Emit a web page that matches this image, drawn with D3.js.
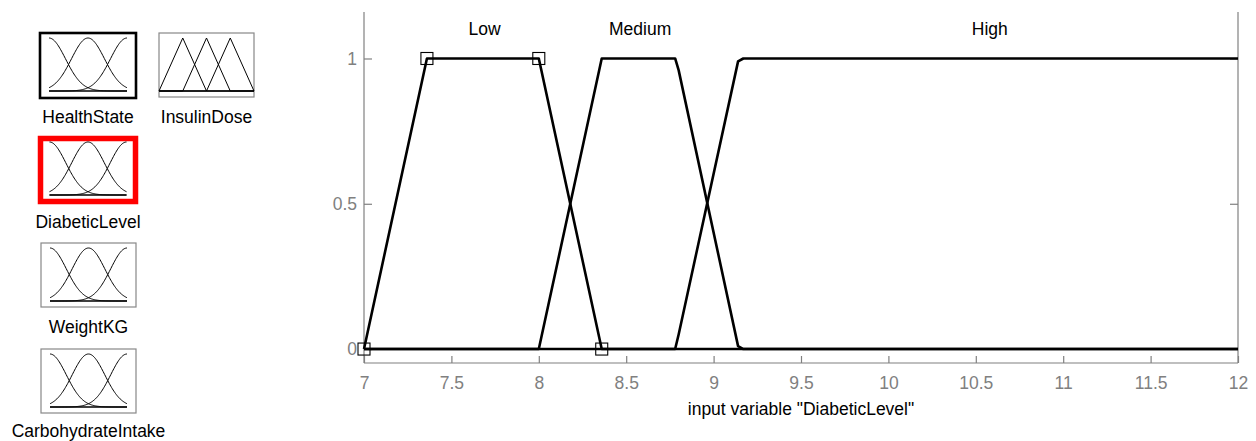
<!DOCTYPE html>
<html>
<head>
<meta charset="utf-8">
<script src="https://cdn.jsdelivr.net/npm/d3@7"></script>
<style>
  body { margin: 0; background: #fff; }
  svg text { font-family: "Liberation Sans", Arial, sans-serif; }
</style>
</head>
<body>
<div id="chart"></div>
<script>

// membership functions of input "DiabeticLevel"
var mfNames = ["Low", "Medium", "High"];
var lowX = [7, 7.36, 8, 8.36, 12];
var lowY = [0, 1, 1, 0, 0];
var mediumX = [7, 8, 8.36, 8.78, 8.8, 9.14, 9.17, 12];
var mediumY = [0, 0, 1, 1, 0.96, 0.01, 0, 0];
var highX = [7, 8.78, 8.8, 9.14, 9.17, 12];
var highY = [0, 0, 0.05, 0.99, 1, 1];
var labelX = [7.69, 8.58, 10.58];
var labelY = 1.1;

var xTicks = [7, 7.5, 8, 8.5, 9, 9.5, 10, 10.5, 11, 11.5, 12];
var yTicks = [0, 0.5, 1];
var xTitle = 'input variable "DiabeticLevel"';

// variables in the left panel
var varNames = ["HealthState", "InsulinDose", "DiabeticLevel", "WeightKG", "CarbohydrateIntake"];
var varTypes = ["gauss", "tri", "gauss", "gauss", "gauss"];
var gaussCenters = [0, 0.5, 1];
var gaussSigma = 0.212;
var triPeaks = [0.25, 0.5, 0.75];
var triHalf = 0.25;

var width = 1256, height = 441;

var svg = d3.select("#chart")
    .append("svg")
    .attr("width", width)
    .attr("height", height);

// ---------- main plot ----------
var plotLeft = 364, plotRight = 1238, plotTop = 12, plotBottom = 363;

var x = d3.scaleLinear().domain([7, 12]).range([plotLeft, plotRight]);
var y = d3.scaleLinear().domain([-0.048, 1.16]).range([plotBottom, plotTop]);

var axisColor = "#808080";
var fontSize = "17.5px";

var xAxis = svg.append("g")
    .attr("transform", "translate(0," + plotBottom + ")")
    .call(d3.axisBottom(x).tickValues(xTicks).tickSize(-7).tickPadding(14)
        .tickFormat(d3.format("")));
var yAxis = svg.append("g")
    .attr("transform", "translate(" + plotLeft + ",0)")
    .call(d3.axisLeft(y).tickValues(yTicks).tickSize(-8).tickPadding(7)
        .tickFormat(d3.format("")));
var yAxisR = svg.append("g")
    .attr("transform", "translate(" + plotRight + ",0)")
    .call(d3.axisRight(y).tickValues(yTicks).tickSize(-8).tickFormat(""));

[xAxis, yAxis, yAxisR].forEach(function(g) {
    g.selectAll("path").attr("stroke", axisColor).attr("stroke-width", 1.2);
    g.selectAll("line").attr("stroke", axisColor).attr("stroke-width", 1.2);
    g.selectAll("text").attr("fill", axisColor).style("font-size", fontSize);
});
// no top edge: redraw domain paths as plain lines
xAxis.select(".domain").attr("d", "M" + plotLeft + ",0H" + plotRight);
yAxis.select(".domain").attr("d", "M0," + plotTop + "V" + plotBottom);
yAxisR.select(".domain").attr("d", "M0," + plotTop + "V" + plotBottom);

svg.append("text")
    .attr("x", (plotLeft + plotRight) / 2)
    .attr("y", 415)
    .attr("text-anchor", "middle")
    .style("font-size", fontSize)
    .attr("fill", "#000")
    .text(xTitle);

var line = d3.line()
    .x(function(d) { return x(d[0]); })
    .y(function(d) { return y(d[1]); });

var curves = [
    d3.zip(lowX, lowY),
    d3.zip(mediumX, mediumY),
    d3.zip(highX, highY)
];

svg.selectAll(".mf")
    .data(curves)
    .enter()
    .append("path")
        .attr("class", "mf")
        .attr("d", line)
        .attr("fill", "none")
        .attr("stroke", "#000")
        .attr("stroke-width", 2.6)
        .attr("stroke-linejoin", "round");

svg.selectAll(".mfLabel")
    .data(mfNames)
    .enter()
    .append("text")
        .attr("class", "mfLabel")
        .attr("x", function(d, i) { return x(labelX[i]); })
        .attr("y", y(labelY) + 6)
        .attr("text-anchor", "middle")
        .style("font-size", fontSize)
        .text(function(d) { return d; });

// squares on the selected MF
svg.selectAll(".handle")
    .data(d3.zip(lowX, lowY).slice(0, 4))
    .enter()
    .append("rect")
        .attr("class", "handle")
        .attr("x", function(d) { return x(d[0]) - 6; })
        .attr("y", function(d) { return y(d[1]) - 6; })
        .attr("width", 12)
        .attr("height", 12)
        .attr("fill", "none")
        .attr("stroke", "#000")
        .attr("stroke-width", 1.1);

// ---------- left panel thumbnails ----------
var boxes = [
    {x: 40, y: 33, w: 96, h: 65, stroke: "#000", sw: 2.6, base: 91},
    {x: 159, y: 33, w: 95, h: 64, stroke: "#888", sw: 1.2, base: 91},
    {x: 40.5, y: 138.5, w: 95, h: 63, stroke: "#f00", sw: 5.5, base: 195},
    {x: 41, y: 243, w: 95, h: 64, stroke: "#888", sw: 1.2, base: 301},
    {x: 41, y: 349, w: 95, h: 64, stroke: "#888", sw: 1.2, base: 407}
];
var labelBase = [123, 123, 228, 333, 437];

var thumbs = svg.selectAll(".thumb")
    .data(varNames)
    .enter()
    .append("g")
        .attr("class", "thumb");

thumbs.each(function(name, i) {
    var g = d3.select(this);
    var b = boxes[i];
    var t = varTypes[i];

    g.append("rect")
        .attr("x", b.x).attr("y", b.y)
        .attr("width", b.w).attr("height", b.h)
        .attr("fill", "#fff")
        .attr("stroke", b.stroke)
        .attr("stroke-width", b.sw);

    var pad = t == "gauss" ? 9 : 0;
    var tx = d3.scaleLinear().domain([0, 1]).range([b.x + pad, b.x + b.w - pad]);
    var ty = d3.scaleLinear().domain([0, 1]).range([b.base, b.base - 53]);
    var tl = d3.line().x(function(d) { return tx(d[0]); }).y(function(d) { return ty(d[1]); });

    var mfs;
    if (t == "gauss") {
        var xs = d3.range(0, 1.0001, 0.01);
        mfs = gaussCenters.map(function(c) {
            return xs.map(function(v) {
                return [v, Math.exp(-Math.pow(v - c, 2) / (2 * gaussSigma * gaussSigma))];
            });
        });
    } else {
        mfs = triPeaks.map(function(p) {
            return [[0, 0], [p - triHalf, 0], [p, 1], [p + triHalf, 0], [1, 0]];
        });
    }

    g.append("line")
        .attr("x1", tx(0)).attr("x2", tx(1))
        .attr("y1", ty(0)).attr("y2", ty(0))
        .attr("stroke", "#000").attr("stroke-width", 1.6);

    g.selectAll(".tmf")
        .data(mfs)
        .enter()
        .append("path")
            .attr("class", "tmf")
            .attr("d", tl)
            .attr("fill", "none")
            .attr("stroke", "#000")
            .attr("stroke-width", 1);

    g.append("text")
        .attr("x", b.x + b.w / 2)
        .attr("y", labelBase[i])
        .attr("text-anchor", "middle")
        .style("font-size", fontSize)
        .text(name);
});

</script>
</body>
</html>
